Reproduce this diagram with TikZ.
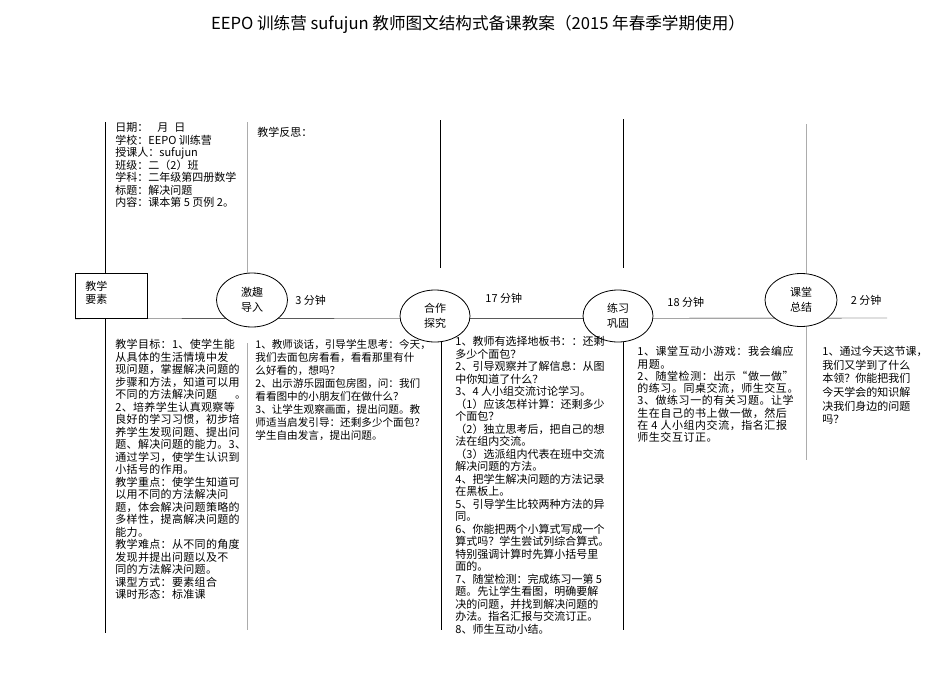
\documentclass[tikz,border=0pt]{standalone}
\usepackage{fontspec}
\setmainfont{Noto Sans CJK SC}
\newfontfamily\cjkwide[LetterSpace=3]{Noto Sans CJK SC}
\newfontfamily\cjkloose[LetterSpace=5]{Noto Sans CJK SC}
\usetikzlibrary{shapes.geometric,positioning,backgrounds}

\begin{document}
\begin{tikzpicture}[
  x=1pt, y=-1pt, font=\fontsize{11}{12.5}\selectfont, line width=0.8pt,
  txt/.style={anchor=north west,align=left,inner sep=0pt},
  stage/.style={draw,ellipse,fill=white,inner sep=0pt,align=center,
                minimum width=71pt,minimum height=54pt,font=\fontsize{11}{14.5}\selectfont},
  mins/.style={anchor=west,inner sep=0pt},
  faint/.style={draw=gray!65}
]
\useasboundingbox (0,0) rectangle (950,672);
\node[font=\fontsize{16.6}{20}\selectfont] (title) at (478,24)
  {EEPO 训练营 sufujun 教师图文结构式备课教案（2015 年春季学期使用）};

\node[draw,fill=white,anchor=north west,minimum width=72pt,minimum height=45pt] (yaosu) at (75,273) {};
\node[txt,font=\fontsize{11}{13}\selectfont,below right=8pt and 10pt of yaosu.north west] (yaosutxt) {教学\\要素};

\node[stage] (jiqu) at (252,300) {激趣\\导入};
\node[stage,minimum width=70pt,minimum height=52pt] (hezuo) at (435,316) {合作\\探究};
\node[stage,minimum width=70pt,minimum height=52pt] (lianxi) at (618,316) {练习\\巩固};
\node[stage,minimum width=72pt,minimum height=53pt] (ketang) at (801,300) {课堂\\总结};

\node[mins,right=7pt of jiqu.east] (t1) {3 分钟};
\node[mins] (t2) at (485,298) {17 分钟};
\node[mins] (t3) at (667,302) {18 分钟};
\node[mins,right=13pt of ketang.east] (t4) {2 分钟};

\coordinate (spineend) at (887,318);
\begin{scope}[on background layer]
\draw (yaosu.south west) -- (spineend);
\end{scope}

\coordinate (a1) at (105,122); \coordinate (b1) at (105,633);
\coordinate (a2) at (247,122); \coordinate (b2) at (247,343); \coordinate (b2e) at (247,630);
\coordinate (a3) at (440,120); \coordinate (a3e) at (440,268); \coordinate (b3e) at (441,630);
\coordinate (a4) at (623,119); \coordinate (a4e) at (623,268); \coordinate (b4e) at (623,630);
\coordinate (a5) at (806,124); \coordinate (b5e) at (806,460);
\draw (a1) -- (a1 |- yaosu.north);
\draw (b1 |- yaosu.south) -- (b1);
\draw[faint] (a2) -- (a2 |- jiqu.north);
\draw[faint] (b2) -- (b2e);
\draw (a3) -- (a3e);
\draw (b3e |- hezuo.south) -- (b3e);
\draw (a4) -- (a4e);
\draw (b4e |- lianxi.south) -- (b4e);
\draw[faint] (a5) -- (a5 |- ketang.north);
\draw[faint] (b5e |- ketang.south) -- (b5e);

\node[txt] (info) at (115,122) {日期：\hspace{9pt}月\hspace{6pt}日\\学校：EEPO 训练营\\授课人：sufujun\\班级：二（2）班\\学科：二年级第四册数学\\标题：解决问题\\内容：课本第 5 页例 2。};
\node[txt] (fansi) at (257,127) {教学反思：};

\node[txt,font=\cjkwide\fontsize{11}{12.5}\selectfont] (mubiao) at (115,339)
  {教学目标：1、使学生能\\从具体的生活情境中发\\现问题，掌握解决问题的\\步骤和方法，知道可以用\\不同的方法解决问题\hspace{18pt}。\\2、培养学生认真观察等\\良好的学习习惯，初步培\\养学生发现问题、提出问\\题、解决问题的能力。3、\\通过学习，使学生认识到\\小括号的作用。\\教学重点：使学生知道可\\以用不同的方法解决问\\题，体会解决问题策略的\\多样性，提高解决问题的\\能力。\\教学难点：从不同的角度\\发现并提出问题以及不\\同的方法解决问题。\\课型方式：要素组合\\课时形态：标准课};

\node[txt,font=\fontsize{10.6}{13}\selectfont] (jiqutxt) at (255,339)
  {1、教师谈话，引导学生思考：今天，\\我们去面包房看看，看看那里有什\\么好看的，想吗？\\2、出示游乐园面包房图，问：我们\\看看图中的小朋友们在做什么？\\3、让学生观察画面，提出问题。教\\师适当启发引导：还剩多少个面包？\\学生自由发言，提出问题。};

\node[txt] (hezuotxt) at (455,336)
  {1、教师有选择地板书：：还剩\\多少个面包？\\2、引导观察并了解信息：从图\\中你知道了什么？\\3、4 人小组交流讨论学习。\\（1）应该怎样计算：还剩多少\\个面包？\\（2）独立思考后，把自己的想\\法在组内交流。\\（3）选派组内代表在班中交流\\解决问题的方法。\\4、把学生解决问题的方法记录\\在黑板上。\\5、引导学生比较两种方法的异\\同。\\6、你能把两个小算式写成一个\\算式吗？学生尝试列综合算式。\\特别强调计算时先算小括号里\\面的。\\7、随堂检测：完成练习一第 5\\题。先让学生看图，明确要解\\决的问题，并找到解决问题的\\办法。指名汇报与交流订正。\\8、师生互动小结。};

\node[txt,font=\cjkloose\fontsize{11}{12.3}\selectfont] (lianxitxt) at (637,346)
  {1、课堂互动小游戏：我会编应\\用题。\\2、随堂检测：出示“做一做”\\的练习。同桌交流，师生交互。\\3、做练习一的有关习题。让学\\生在自己的书上做一做，然后\\在 4 人小组内交流，指名汇报\\师生交互订正。};

\node[txt,font=\fontsize{11}{13.6}\selectfont] (ketangtxt) at (822,346)
  {1、通过今天这节课，\\我们又学到了什么\\本领？你能把我们\\今天学会的知识解\\决我们身边的问题\\吗？};
\end{tikzpicture}
\end{document}
